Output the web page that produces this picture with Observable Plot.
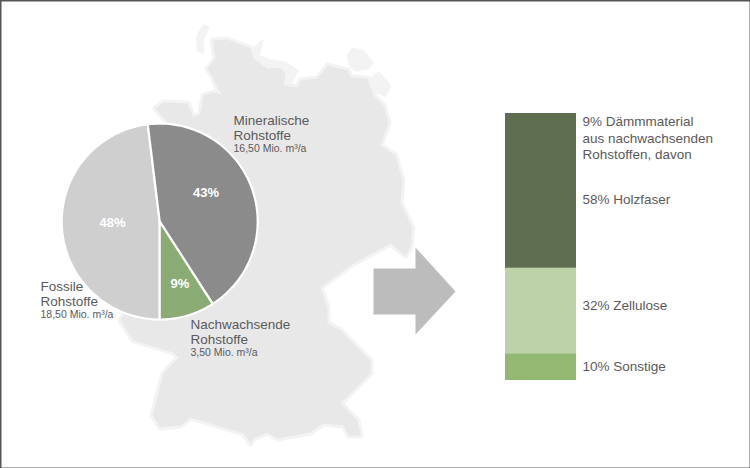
<!DOCTYPE html>
<html><head><meta charset="utf-8">
<script src="https://cdn.jsdelivr.net/npm/d3@7"></script>
<script src="https://cdn.jsdelivr.net/npm/@observablehq/plot@0.6"></script>
<style>
html,body{margin:0;padding:0;background:#fff}
#c{position:relative;width:750px;height:468px;overflow:hidden}
#c svg{position:absolute;left:0;top:0;background:transparent}
</style></head><body><div id="c"></div>
<script>
const rawNames = ["Fossile Rohstoffe","Mineralische Rohstoffe","Nachwachsende Rohstoffe"];
const rawVolumes = [18.5,16.5,3.5];
const rawShares = ["48%","43%","9%"];
const rawColors = ["#cfcfcf","#8b8b8b","#8aab74"];
const insulationNames = ["58% Holzfaser","32% Zellulose","10% Sonstige"];
const insulationShares = [58,32,10];
const insulationColors = ["#5e6e4e","#bbd3a6","#92b872"];
const germanyX = [212,227,250,253,267,280,285,283,297,300,317,327,347,350,367,373,383,388,380,395,402,400,412,410,405,390,353,320,327,327,340,370,370,340,357,360,348,343,323,310,277,267,253,250,243,223,190,180,160,152,163,178,173,133,120,130,150,167,155,163,187,193,200,203,213,225,233,226,217,213,207,215];
const germanyY = [40,39,48,58,68,67,73,85,87,80,78,65,70,77,78,95,105,122,145,155,180,203,227,247,255,243,263,287,307,323,330,360,373,403,420,435,435,425,423,432,438,432,438,443,433,427,417,425,427,415,373,357,352,340,320,300,200,122,108,102,103,117,113,95,92,95,108,100,88,78,68,58];
const haloX = [[197,203,208,202,203,197],[253,262,258,270,285,297,290,275,272],[347,352,362,372,368,355,350],[370,378,390,385,375]];
const haloY = [[35,25,27,40,52,50],[48,40,55,60,62,70,85,98,90],[55,48,50,62,68,70,66],[78,72,85,95,92]];
const arrowX = [373,415,415,455,415,415,373];
const arrowY = [268,268,247,291,334,314,314];

const map = germanyX.map((x,i)=>({x,y:germanyY[i]}));
const halo = haloX.flatMap((xs,k)=>xs.map((x,i)=>({k,x,y:haloY[k][i]})));
const arrow = arrowX.map((x,i)=>({x,y:arrowY[i]}));
const cx=159.2, cy=221, r=98;
const arcs = d3.pie().sort(null).startAngle(Math.PI).endAngle(3*Math.PI)(rawVolumes);
const wedges = arcs.flatMap((a,i)=>{
  const n=60, pts=[{i,x:cx,y:cy}];
  for(let k=0;k<=n;k++){const t=a.startAngle+(a.endAngle-a.startAngle)*k/n;
    pts.push({i,x:cx+r*Math.sin(t),y:cy-r*Math.cos(t)});}
  pts.push({i,x:cx,y:cy});
  return pts;
});
const txt = "#5a5a5c";
const F = "Liberation Sans, Arial, sans-serif";
const big = [
 ["Mineralische",233,120],["Rohstoffe",233,135],
 ["Fossile",40,286],["Rohstoffe",40,301],
 ["Nachwachsende",190,324],["Rohstoffe",190,339]
].map(([t,x,y])=>({t,x,y}));
const small = [
 ["16,50 Mio. m³/a",233,148],["18,50 Mio. m³/a",40,314.5],["3,50 Mio. m³/a",190,352.5]
].map(([t,x,y])=>({t,x,y}));
const right = [
 ["9% Dämmmaterial",582,121],["aus nachwachsenden",582,138],["Rohstoffen, davon",582,154],
 [insulationNames[0],582,199.5],[insulationNames[1],582,305.5],[insulationNames[2],582,366.5]
].map(([t,x,y])=>({t,x,y}));
const pct = [[rawShares[0],112,222],[rawShares[1],205.5,192.5],[rawShares[2],179.5,283]].map(([t,x,y])=>({t,x,y}));

const main = Plot.plot({
  width:750,height:468,margin:0,
  x:{domain:[0,750],range:[0,750],axis:null},
  y:{domain:[0,468],range:[0,468],axis:null},
  marks:[
    Plot.line(halo,{x:"x",y:"y",z:"k",fill:"#f3f3f3",stroke:"#f3f3f3",strokeWidth:2,strokeLinejoin:"round",curve:"linear-closed"}),
    Plot.line(map,{x:"x",y:"y",fill:"none",stroke:"#f3f3f3",strokeWidth:6,strokeLinejoin:"round",curve:"linear-closed"}),
    Plot.line(map,{x:"x",y:"y",fill:"#e8e8e8",stroke:"none",curve:"linear-closed"}),
    Plot.line(arrow,{x:"x",y:"y",fill:"#bcbcbc",stroke:"none",curve:"linear-closed"}),
    Plot.line(wedges,{x:"x",y:"y",z:"i",fill:d=>rawColors[d.i],stroke:"#fff",strokeWidth:2.2,strokeLinejoin:"miter"}),
    Plot.text(pct,{x:"x",y:"y",text:"t",fill:"#fff",fontSize:13,fontWeight:"bold",fontFamily:F}),
    Plot.text(big,{x:"x",y:"y",text:"t",fill:txt,fontSize:13.5,fontFamily:F,textAnchor:"start",letterSpacing:"0.35px"}),
    Plot.text(small,{x:"x",y:"y",text:"t",fill:txt,fontSize:10.5,fontFamily:F,textAnchor:"start",letterSpacing:"0.2px"}),
    Plot.text(right,{x:"x",y:"y",text:"t",fill:txt,fontSize:13.5,fontFamily:F,textAnchor:"start",letterSpacing:"0.35px"}),
    Plot.frame({stroke:"#555",strokeWidth:2})
  ]
});
const bars = insulationNames.map((n,i)=>({n,v:insulationShares[i],c:insulationColors[i]}));
const stack = Plot.plot({
  width:750,height:468,marginLeft:505,marginRight:174,marginTop:113,marginBottom:88,
  x:{axis:null,padding:0},
  y:{domain:[0,100],reverse:true,axis:null},
  marks:[Plot.barY(bars,Plot.stackY({x:()=>"Dämmmaterial",y:"v",fill:"c",order:null}))]
});
const c=document.getElementById("c");
c.append(main); c.append(stack);
</script></body></html>
